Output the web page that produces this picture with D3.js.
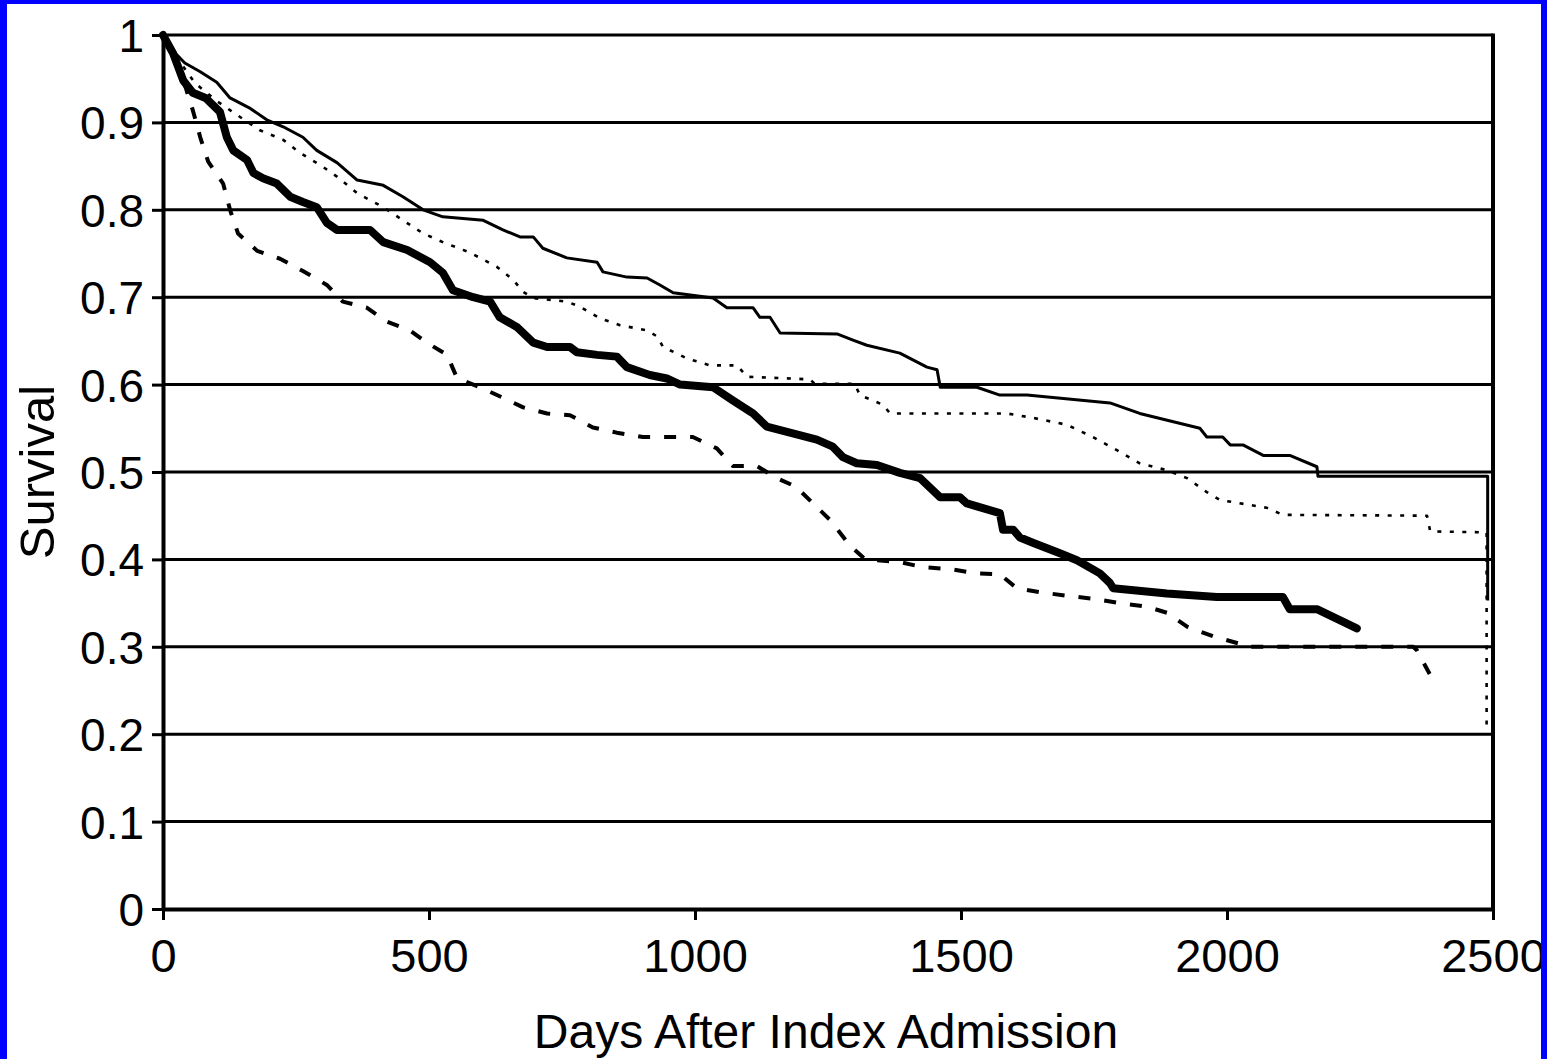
<!DOCTYPE html>
<html>
<head>
<meta charset="utf-8">
<script src="https://cdn.jsdelivr.net/npm/d3@7/dist/d3.min.js"></script>
<style>
  html, body { margin: 0; padding: 0; background: #fff; }
  svg { display: block; }
  text { font-family: "Liberation Sans", Arial, Helvetica, sans-serif; fill: #000; }
</style>
</head>
<body>
<svg id="chart" width="1547" height="1059"></svg>
<script>
// Kaplan–Meier style survival curves, days after index admission
const yTicks = [0, 0.1, 0.2, 0.3, 0.4, 0.5, 0.6, 0.7, 0.8, 0.9, 1];
const yTickLabels = ["0", "0.1", "0.2", "0.3", "0.4", "0.5", "0.6", "0.7", "0.8", "0.9", "1"];
const xTicks = [0, 500, 1000, 1500, 2000, 2500];
const xTickLabels = ["0", "500", "1000", "1500", "2000", "2500"];

// Group 1 (thin solid line)
const thinDays = [0, 12, 25, 41, 70, 101, 126, 164, 195, 226, 263, 289, 327, 365, 414, 451, 489, 526, 602, 639, 671, 696, 714, 759, 816, 827, 872, 910, 934, 959, 1034, 1060, 1109, 1122, 1141, 1160, 1267, 1297, 1323, 1385, 1436, 1455, 1461, 1530, 1573, 1624, 1780, 1836, 1949, 1962, 1992, 2006, 2030, 2068, 2118, 2169, 2171, 2490, 2490];
const thinSurv = [1, 0.99, 0.978, 0.968, 0.958, 0.946, 0.928, 0.916, 0.903, 0.895, 0.883, 0.868, 0.854, 0.834, 0.828, 0.815, 0.800, 0.792, 0.788, 0.777, 0.769, 0.769, 0.756, 0.745, 0.740, 0.729, 0.723, 0.722, 0.714, 0.705, 0.699, 0.688, 0.688, 0.677, 0.677, 0.659, 0.658, 0.651, 0.645, 0.636, 0.620, 0.617, 0.597, 0.597, 0.588, 0.588, 0.579, 0.567, 0.550, 0.540, 0.540, 0.531, 0.531, 0.519, 0.519, 0.506, 0.495, 0.495, 0.353];

// Group 2 (thick solid line)
const thickDays = [0, 19, 38, 56, 80, 107, 120, 132, 158, 170, 188, 214, 239, 263, 289, 308, 327, 389, 414, 459, 502, 526, 545, 583, 615, 633, 665, 696, 722, 765, 778, 816, 853, 872, 915, 947, 972, 1034, 1071, 1109, 1135, 1173, 1229, 1259, 1278, 1304, 1342, 1385, 1423, 1461, 1498, 1511, 1573, 1579, 1598, 1611, 1635, 1686, 1718, 1761, 1780, 1786, 1887, 1981, 2105, 2118, 2169, 2244];
const thickSurv = [1, 0.979, 0.948, 0.934, 0.928, 0.912, 0.883, 0.868, 0.857, 0.842, 0.836, 0.830, 0.815, 0.809, 0.803, 0.785, 0.777, 0.777, 0.763, 0.754, 0.740, 0.728, 0.708, 0.700, 0.695, 0.677, 0.666, 0.648, 0.643, 0.643, 0.637, 0.634, 0.632, 0.620, 0.611, 0.607, 0.600, 0.597, 0.582, 0.567, 0.552, 0.546, 0.537, 0.529, 0.517, 0.510, 0.508, 0.499, 0.493, 0.471, 0.471, 0.464, 0.453, 0.434, 0.434, 0.425, 0.419, 0.407, 0.399, 0.384, 0.373, 0.367, 0.361, 0.357, 0.357, 0.343, 0.343, 0.321];

// Group 3 (dotted line)
const dotDays = [0, 25, 60, 100, 126, 182, 226, 258, 301, 327, 365, 414, 451, 489, 526, 577, 627, 658, 677, 696, 759, 784, 821, 859, 910, 929, 940, 985, 1028, 1079, 1098, 1216, 1225, 1300, 1310, 1353, 1367, 1586, 1635, 1699, 1748, 1793, 1836, 1887, 1925, 1962, 1987, 2075, 2105, 2376, 2382, 2488, 2488];
const dotSurv = [1, 0.975, 0.945, 0.925, 0.914, 0.891, 0.880, 0.865, 0.849, 0.838, 0.819, 0.803, 0.788, 0.773, 0.763, 0.751, 0.735, 0.720, 0.706, 0.699, 0.695, 0.689, 0.676, 0.668, 0.662, 0.655, 0.643, 0.630, 0.622, 0.622, 0.609, 0.606, 0.601, 0.601, 0.588, 0.577, 0.567, 0.567, 0.562, 0.554, 0.540, 0.525, 0.510, 0.502, 0.493, 0.477, 0.468, 0.459, 0.451, 0.450, 0.432, 0.431, 0.205];

// Group 4 (dashed line)
const dashDays = [0, 20, 40, 56, 70, 85, 113, 126, 141, 177, 220, 263, 308, 338, 383, 421, 464, 496, 534, 553, 596, 639, 677, 722, 765, 808, 853, 902, 996, 1041, 1071, 1116, 1154, 1190, 1254, 1291, 1320, 1385, 1429, 1479, 1530, 1573, 1605, 1654, 1705, 1748, 1799, 1849, 1887, 1925, 1974, 2021, 2040, 2350, 2357, 2387];
const dashSurv = [1, 0.975, 0.945, 0.914, 0.883, 0.855, 0.830, 0.800, 0.773, 0.753, 0.744, 0.730, 0.714, 0.695, 0.688, 0.672, 0.662, 0.648, 0.634, 0.607, 0.597, 0.585, 0.574, 0.567, 0.565, 0.551, 0.545, 0.540, 0.540, 0.527, 0.507, 0.507, 0.493, 0.483, 0.445, 0.416, 0.400, 0.397, 0.391, 0.389, 0.384, 0.383, 0.367, 0.362, 0.358, 0.355, 0.350, 0.346, 0.339, 0.323, 0.312, 0.304, 0.300, 0.300, 0.296, 0.262];

const W = 1547, H = 1059;
const margin = { left: 163, top: 35, right: 54, bottom: 150 };
const plotW = W - margin.left - margin.right;   // 1330
const plotH = H - margin.top - margin.bottom;   // 874

const svg = d3.select("#chart");
svg.append("rect").attr("width", W).attr("height", H).attr("fill", "#fff");

const x = d3.scaleLinear().domain([0, 2500]).range([0, plotW]);
const y = d3.scaleLinear().domain([0, 1]).range([plotH, 0]);

const g = svg.append("g").attr("transform", `translate(${margin.left},${margin.top})`);

// horizontal gridlines
g.append("g").selectAll("line")
  .data(yTicks.filter(d => d > 0))
  .join("line")
  .attr("x1", 0).attr("x2", plotW)
  .attr("y1", d => y(d)).attr("y2", d => y(d))
  .attr("stroke", "#000").attr("stroke-width", 3);

// right frame edge
g.append("line")
  .attr("x1", plotW).attr("x2", plotW)
  .attr("y1", y(1) - 1.5).attr("y2", y(0))
  .attr("stroke", "#000").attr("stroke-width", 4);

// survival curves
const series = [
  { days: thinDays, surv: thinSurv, width: 3, dash: null, cap: "butt" },
  { days: dotDays, surv: dotSurv, width: 2.6, dash: "4,8.5", cap: "butt" },
  { days: dashDays, surv: dashSurv, width: 4, dash: "12,14", cap: "butt" },
  { days: thickDays, surv: thickSurv, width: 8, dash: null, cap: "round" }
];
const line = d3.line().x(d => x(d[0])).y(d => y(d[1]));
series.forEach(s => {
  g.append("path")
    .datum(d3.zip(s.days, s.surv))
    .attr("d", line)
    .attr("fill", "none")
    .attr("stroke", "#000")
    .attr("stroke-width", s.width)
    .attr("stroke-linejoin", "round")
    .attr("stroke-linecap", s.cap)
    .attr("stroke-dasharray", s.dash);
});

// axes
const yAxis = g.append("g")
  .call(d3.axisLeft(y).tickValues(yTicks).tickSize(11).tickSizeOuter(0)
    .tickFormat((d, i) => yTickLabels[i]));
yAxis.select(".domain").attr("stroke", "#000").attr("stroke-width", 4);
yAxis.selectAll(".tick line").attr("stroke", "#000").attr("stroke-width", 3);
yAxis.selectAll(".tick text")
  .attr("x", -19).attr("dy", "0.36em")
  .style("font-size", "46px").style("font-family", "'Liberation Sans', Arial, sans-serif");

const xAxis = g.append("g").attr("transform", `translate(0,${plotH})`)
  .call(d3.axisBottom(x).tickValues(xTicks).tickSize(11).tickSizeOuter(0)
    .tickFormat((d, i) => xTickLabels[i]));
xAxis.select(".domain").attr("stroke", "#000").attr("stroke-width", 4);
xAxis.selectAll(".tick line").attr("stroke", "#000").attr("stroke-width", 3);
xAxis.selectAll(".tick text")
  .attr("y", 30).attr("dy", "0.71em")
  .style("font-size", "47px").style("font-family", "'Liberation Sans', Arial, sans-serif");

// axis titles
svg.append("text")
  .attr("x", margin.left + plotW / 2 - 2).attr("y", 1048)
  .attr("text-anchor", "middle")
  .style("font-size", "48px")
  .text("Days After Index Admission");

svg.append("text")
  .attr("transform", `translate(54,${margin.top + plotH / 2}) rotate(-90)`)
  .attr("text-anchor", "middle")
  .style("font-size", "49px")
  .text("Survival");

// blue frame around the figure
svg.append("rect").attr("x", 0).attr("y", 0).attr("width", 7).attr("height", H).attr("fill", "#0000ff");
svg.append("rect").attr("x", 0).attr("y", 0).attr("width", W).attr("height", 4).attr("fill", "#0000ff");
svg.append("rect").attr("x", W - 6).attr("y", 0).attr("width", 6).attr("height", H).attr("fill", "#0000ff");
</script>
</body>
</html>
